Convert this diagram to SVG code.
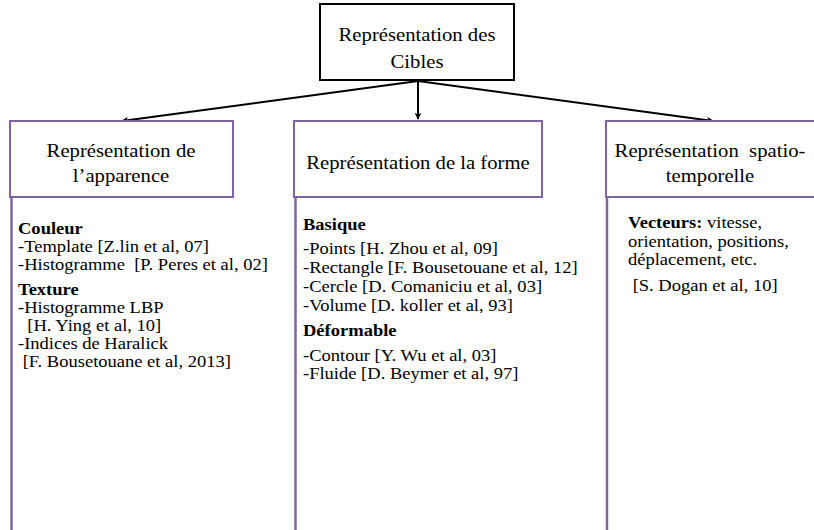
<svg xmlns="http://www.w3.org/2000/svg" width="814" height="530" viewBox="0 0 814 530">
  <defs>
    <marker id="arrow" viewBox="0 0 10 10" refX="9" refY="5" markerWidth="7" markerHeight="7" orient="auto-start-reverse" markerUnits="userSpaceOnUse">
      <path d="M0,0 L10,5 L0,10 L3,5 z" fill="#000"/>
    </marker>
    <style>
      .root { fill: #fff; stroke: #000; stroke-width: 2; }
      .head { fill: #fff; stroke: #8064a2; stroke-width: 2; }
      .rail { stroke: #8064a2; stroke-width: 2.5; fill: none; }
      .edge { stroke: #000; stroke-width: 2; fill: none; marker-end: url(#arrow); }
      text { font-family: "Liberation Serif", "Times New Roman", serif; fill: #000; }
      .h { font-size: 19px; text-anchor: middle; }
      .c { font-size: 17px; }
      .b { font-weight: bold; }
    </style>
  </defs>
  <rect width="814" height="530" fill="#fff"/>

  <!-- connectors from the root node -->
  <g id="connectors">
    <line class="edge" x1="418" y1="81" x2="122" y2="121"/>
    <line class="edge" x1="418" y1="81" x2="418" y2="119"/>
    <line class="edge" x1="418" y1="81" x2="713" y2="121"/>
  </g>

  <g id="root">
    <rect class="root" x="320" y="4" width="194" height="76"/>
    <g transform="translate(417,0) scale(1.09,1)">
      <text class="h" x="0" y="41">Représentation des</text>
      <text class="h" x="0" y="68">Cibles</text>
    </g>
  </g>

  <g id="apparence">
    <line class="rail" x1="11.5" y1="150" x2="11.5" y2="530"/>
    <rect class="head" x="10" y="121" width="223" height="76"/>
    <g transform="translate(121,0) scale(1.09,1)">
      <text class="h" x="0" y="157">Représentation de</text>
      <text class="h" x="0" y="182">l’apparence</text>
    </g>
    <g class="c" transform="translate(18,0) scale(1.09,1)">
      <text class="b" x="0" y="234">Couleur</text>
      <text x="0" y="252">-Template [Z.lin et al, 07]</text>
      <text x="0" y="270" xml:space="preserve">-Histogramme  [P. Peres et al, 02]</text>
      <text class="b" x="0" y="295">Texture</text>
      <text x="0" y="313">-Histogramme LBP</text>
      <text x="0" y="331" xml:space="preserve">  [H. Ying et al, 10]</text>
      <text x="0" y="349">-Indices de Haralick</text>
      <text x="0" y="367" xml:space="preserve"> [F. Bousetouane et al, 2013]</text>
    </g>
  </g>

  <g id="forme">
    <line class="rail" x1="295.5" y1="190" x2="295.5" y2="530"/>
    <rect class="head" x="294" y="121" width="248" height="76"/>
    <g transform="translate(418,0) scale(1.09,1)">
      <text class="h" x="0" y="169">Représentation de la forme</text>
    </g>
    <g class="c" transform="translate(303,0) scale(1.09,1)">
      <text class="b" x="0" y="230">Basique</text>
      <text x="0" y="254">-Points [H. Zhou et al, 09]</text>
      <text x="0" y="273">-Rectangle [F. Bousetouane et al, 12]</text>
      <text x="0" y="292">-Cercle [D. Comaniciu et al, 03]</text>
      <text x="0" y="311">-Volume [D. koller et al, 93]</text>
      <text class="b" x="0" y="336">Déformable</text>
      <text x="0" y="361">-Contour [Y. Wu et al, 03]</text>
      <text x="0" y="379">-Fluide [D. Beymer et al, 97]</text>
    </g>
  </g>

  <g id="spatio">
    <line class="rail" x1="607" y1="197" x2="607" y2="530"/>
    <rect class="head" x="606" y="121" width="220" height="76"/>
    <g transform="translate(710,0) scale(1.09,1)">
      <text class="h" x="0" y="157" xml:space="preserve">Représentation  spatio-</text>
      <text class="h" x="0" y="182">temporelle</text>
    </g>
    <g class="c" transform="translate(628,0) scale(1.09,1)">
      <text x="0" y="228"><tspan class="b">Vecteurs:</tspan> vitesse,</text>
      <text x="0" y="247">orientation, positions,</text>
      <text x="0" y="265">déplacement, etc.</text>
      <text x="0" y="291" xml:space="preserve"> [S. Dogan et al, 10]</text>
    </g>
  </g>
</svg>
